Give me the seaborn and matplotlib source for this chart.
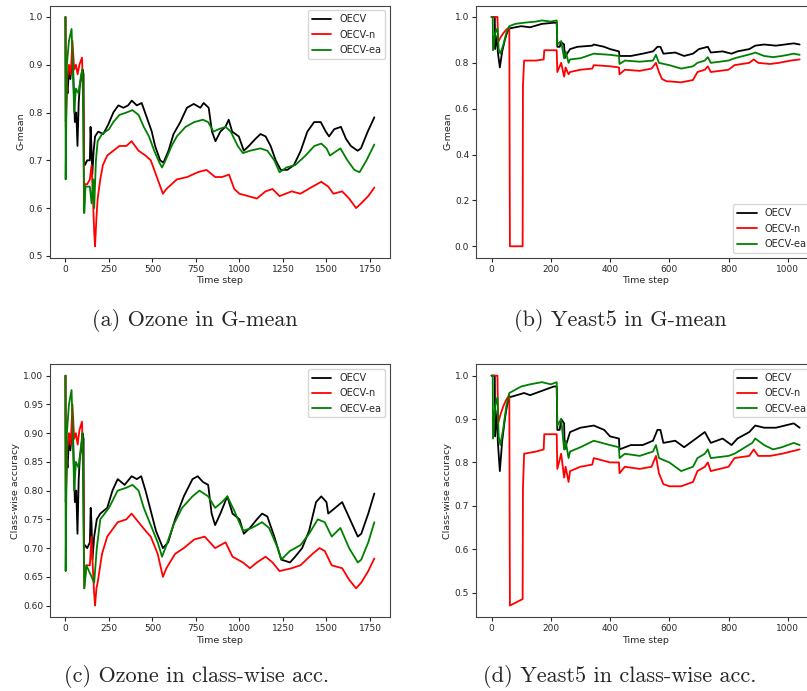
import matplotlib
matplotlib.use("Agg")
import matplotlib.pyplot as plt
import seaborn as sns
import pandas as pd

methods = ["OECV", "OECV-n", "OECV-ea"]
colors = {"OECV": "black", "OECV-n": "red", "OECV-ea": "green"}

# ---- Ozone, G-mean ----
oz_gm_t_oecv = [0, 2, 6, 12, 20, 28, 36, 44, 54, 62, 69, 76, 83, 90, 98, 104, 106, 112, 125, 140, 144, 148, 154,
                162, 170, 188, 217, 246, 275, 304, 333, 360, 381, 410, 438, 467, 496, 515, 544, 563, 592, 621, 660,
                698, 737, 775, 794, 823, 842, 862, 890, 919, 938, 958, 996, 1025, 1054, 1092, 1121, 1150, 1179, 1208,
                1237, 1275, 1313, 1352, 1390, 1429, 1467, 1496, 1515, 1544, 1583, 1612, 1640, 1679, 1698, 1737, 1775]
oz_gm_v_oecv = [1.0, 0.78, 0.86, 0.84, 0.89, 0.87, 0.90, 0.89, 0.78, 0.80, 0.73, 0.82, 0.86, 0.87, 0.89, 0.88, 0.70,
                0.69, 0.70, 0.70, 0.77, 0.74, 0.67, 0.72, 0.75, 0.76, 0.755, 0.775, 0.80, 0.815, 0.81, 0.815, 0.825,
                0.815, 0.82, 0.79, 0.76, 0.73, 0.70, 0.695, 0.72, 0.755, 0.78, 0.81, 0.818, 0.81, 0.82, 0.81, 0.76,
                0.74, 0.76, 0.77, 0.785, 0.76, 0.75, 0.72, 0.73, 0.745, 0.755, 0.75, 0.73, 0.70, 0.68, 0.68, 0.69,
                0.72, 0.76, 0.78, 0.78, 0.76, 0.75, 0.765, 0.77, 0.745, 0.73, 0.72, 0.725, 0.76, 0.79]

oz_gm_t_n = [0, 2, 10, 20, 30, 40, 50, 60, 70, 80, 95, 104, 106, 112, 125, 140, 150, 158, 165, 170, 178, 185, 200,
             215, 240, 275, 310, 350, 380, 420, 460, 490, 520, 540, 560, 580, 610, 640, 700, 760, 810, 860, 900, 940,
             970, 1000, 1050, 1100, 1150, 1190, 1230, 1300, 1350, 1420, 1470, 1510, 1540, 1590, 1630, 1670, 1700,
             1740, 1775]
oz_gm_v_n = [1.0, 0.77, 0.87, 0.90, 0.88, 0.95, 0.89, 0.90, 0.88, 0.90, 0.915, 0.80, 0.59, 0.65, 0.65, 0.66, 0.69,
             0.62, 0.55, 0.52, 0.58, 0.62, 0.66, 0.69, 0.71, 0.72, 0.73, 0.73, 0.74, 0.72, 0.71, 0.70, 0.67, 0.65,
             0.63, 0.64, 0.65, 0.66, 0.665, 0.675, 0.68, 0.665, 0.665, 0.67, 0.64, 0.63, 0.625, 0.62, 0.635, 0.64,
             0.625, 0.635, 0.63, 0.645, 0.655, 0.645, 0.63, 0.635, 0.62, 0.60, 0.61, 0.625, 0.643]

oz_gm_t_ea = [0, 1, 8, 20, 35, 42, 50, 60, 75, 90, 98, 102, 108, 115, 140, 150, 160, 165, 175, 185, 210, 250, 275,
              310, 350, 385, 420, 450, 480, 510, 540, 555, 575, 610, 640, 690, 740, 790, 820, 850, 880, 920, 950,
              990, 1020, 1060, 1120, 1160, 1200, 1230, 1270, 1320, 1380, 1430, 1470, 1500, 1520, 1580, 1620, 1660,
              1690, 1730, 1775]
oz_gm_v_ea = [1.0, 0.66, 0.90, 0.95, 0.975, 0.90, 0.80, 0.85, 0.84, 0.88, 0.89, 0.78, 0.59, 0.645, 0.645, 0.61,
              0.66, 0.60, 0.70, 0.74, 0.755, 0.765, 0.78, 0.795, 0.80, 0.805, 0.795, 0.77, 0.75, 0.72, 0.695, 0.685,
              0.70, 0.73, 0.75, 0.77, 0.78, 0.785, 0.78, 0.76, 0.765, 0.77, 0.76, 0.73, 0.715, 0.72, 0.725, 0.72,
              0.70, 0.675, 0.685, 0.69, 0.71, 0.73, 0.735, 0.725, 0.71, 0.725, 0.70, 0.68, 0.675, 0.70, 0.733]

# ---- Ozone, class-wise accuracy ----
oz_ca_t_oecv = [0, 2, 6, 12, 20, 28, 36, 44, 54, 62, 69, 76, 83, 90, 98, 104, 106, 112, 125, 140, 145, 150, 155,
                165, 180, 200, 240, 270, 300, 340, 380, 410, 435, 460, 490, 520, 560, 590, 630, 680, 730, 760, 790,
                820, 840, 860, 890, 930, 960, 1000, 1025, 1060, 1100, 1130, 1160, 1200, 1240, 1290, 1320, 1360, 1400,
                1440, 1470, 1500, 1510, 1550, 1590, 1620, 1650, 1680, 1700, 1740, 1775]
oz_ca_v_oecv = [1.0, 0.78, 0.86, 0.84, 0.89, 0.87, 0.90, 0.89, 0.78, 0.80, 0.725, 0.82, 0.86, 0.87, 0.90, 0.89,
                0.70, 0.705, 0.70, 0.71, 0.77, 0.74, 0.68, 0.72, 0.75, 0.76, 0.77, 0.80, 0.82, 0.81, 0.825, 0.82,
                0.825, 0.80, 0.765, 0.73, 0.70, 0.71, 0.75, 0.79, 0.82, 0.825, 0.815, 0.81, 0.76, 0.74, 0.76, 0.79,
                0.76, 0.75, 0.725, 0.735, 0.75, 0.76, 0.755, 0.72, 0.68, 0.675, 0.685, 0.70, 0.73, 0.78, 0.79, 0.78,
                0.76, 0.77, 0.78, 0.76, 0.74, 0.72, 0.725, 0.76, 0.795]

oz_ca_t_n = [0, 2, 10, 20, 30, 40, 50, 60, 70, 80, 95, 104, 108, 120, 140, 150, 158, 165, 170, 178, 185, 210, 240,
             300, 350, 380, 420, 460, 490, 530, 560, 580, 630, 680, 740, 800, 860, 920, 960, 1020, 1060, 1100, 1150,
             1190, 1230, 1300, 1350, 1420, 1460, 1490, 1530, 1590, 1630, 1670, 1700, 1740, 1775]
oz_ca_v_n = [1.0, 0.78, 0.87, 0.90, 0.88, 0.95, 0.89, 0.90, 0.88, 0.905, 0.92, 0.80, 0.63, 0.67, 0.67, 0.72, 0.66,
             0.62, 0.60, 0.63, 0.64, 0.69, 0.72, 0.745, 0.75, 0.76, 0.745, 0.73, 0.72, 0.69, 0.65, 0.665, 0.69, 0.70,
             0.715, 0.72, 0.70, 0.71, 0.685, 0.675, 0.665, 0.675, 0.685, 0.675, 0.66, 0.665, 0.67, 0.69, 0.70,
             0.695, 0.67, 0.665, 0.645, 0.63, 0.64, 0.66, 0.682]

oz_ca_t_ea = [0, 1, 8, 20, 35, 42, 50, 60, 75, 90, 98, 102, 108, 120, 150, 165, 180, 200, 250, 300, 350, 385, 420,
              450, 490, 530, 555, 580, 620, 670, 730, 770, 820, 860, 900, 930, 970, 1020, 1070, 1130, 1170, 1220,
              1240, 1290, 1350, 1400, 1450, 1490, 1530, 1580, 1630, 1680, 1700, 1740, 1775]
oz_ca_v_ea = [1.0, 0.66, 0.90, 0.95, 0.975, 0.90, 0.80, 0.85, 0.84, 0.88, 0.90, 0.78, 0.63, 0.67, 0.65, 0.64, 0.70,
              0.75, 0.77, 0.80, 0.805, 0.81, 0.80, 0.77, 0.74, 0.71, 0.685, 0.705, 0.74, 0.77, 0.79, 0.80, 0.79,
              0.77, 0.78, 0.79, 0.765, 0.73, 0.735, 0.745, 0.735, 0.70, 0.68, 0.695, 0.705, 0.725, 0.75, 0.745,
              0.72, 0.735, 0.70, 0.675, 0.68, 0.71, 0.745]

# ---- Yeast5, G-mean ----
ye_gm_t_oecv = [0, 11, 12, 20, 21, 28, 36, 45, 52, 60, 80, 100, 130, 170, 210, 220, 222, 230, 235, 245, 247, 255,
                265, 290, 340, 345, 380, 400, 430, 432, 470, 510, 545, 560, 570, 580, 620, 650, 680, 700, 730, 740,
                780, 810, 830, 870, 890, 920, 960, 1020, 1040]
ye_gm_v_oecv = [1.0, 1.0, 0.86, 0.92, 0.85, 0.78, 0.85, 0.90, 0.93, 0.95, 0.955, 0.96, 0.955, 0.97, 0.975, 0.975,
                0.87, 0.87, 0.89, 0.88, 0.82, 0.84, 0.86, 0.87, 0.875, 0.88, 0.87, 0.86, 0.85, 0.83, 0.83, 0.84, 0.85,
                0.87, 0.87, 0.84, 0.845, 0.83, 0.84, 0.86, 0.87, 0.845, 0.85, 0.84, 0.85, 0.86, 0.875, 0.88, 0.875,
                0.885, 0.88]

ye_gm_t_n = [0, 20, 22, 30, 40, 50, 60, 62, 105, 106, 110, 150, 176, 178, 220, 222, 235, 245, 250, 260, 265, 300,
             340, 345, 400, 430, 432, 450, 500, 540, 555, 565, 575, 590, 640, 680, 695, 720, 730, 740, 800, 820, 870,
             885, 900, 940, 970, 1010, 1040]
ye_gm_v_n = [1.0, 1.0, 0.89, 0.91, 0.93, 0.945, 0.955, 0.0, 0.0, 0.70, 0.81, 0.81, 0.815, 0.855, 0.855, 0.76, 0.80,
             0.74, 0.78, 0.75, 0.76, 0.77, 0.775, 0.79, 0.785, 0.78, 0.75, 0.77, 0.765, 0.775, 0.80, 0.76, 0.73,
             0.72, 0.715, 0.725, 0.76, 0.77, 0.785, 0.76, 0.77, 0.79, 0.80, 0.815, 0.80, 0.795, 0.80, 0.81, 0.815]

ye_gm_t_ea = [0, 4, 5, 12, 20, 24, 30, 40, 50, 60, 80, 110, 150, 170, 200, 220, 222, 235, 245, 250, 260, 265, 300,
              345, 400, 430, 432, 450, 500, 545, 555, 565, 600, 640, 680, 695, 720, 730, 740, 800, 820, 880, 890,
              920, 950, 980, 1020, 1040]
ye_gm_v_ea = [1.0, 1.0, 0.855, 0.93, 0.95, 0.86, 0.84, 0.88, 0.93, 0.96, 0.97, 0.975, 0.98, 0.985, 0.98, 0.985,
              0.88, 0.895, 0.82, 0.85, 0.80, 0.815, 0.82, 0.84, 0.835, 0.83, 0.795, 0.81, 0.805, 0.81, 0.835, 0.80,
              0.79, 0.775, 0.785, 0.80, 0.81, 0.825, 0.80, 0.81, 0.82, 0.84, 0.845, 0.83, 0.825, 0.83, 0.84, 0.835]

# ---- Yeast5, class-wise accuracy ----
ye_ca_t_oecv = [0, 11, 12, 20, 21, 28, 36, 45, 52, 60, 110, 130, 210, 220, 222, 230, 235, 245, 247, 265, 300, 345,
                380, 400, 430, 432, 470, 510, 545, 560, 570, 580, 620, 650, 690, 720, 740, 780, 810, 830, 870, 890,
                920, 960, 1020, 1040]
ye_ca_v_oecv = [1.0, 1.0, 0.86, 0.92, 0.85, 0.78, 0.85, 0.90, 0.93, 0.95, 0.96, 0.955, 0.975, 0.975, 0.875, 0.875,
                0.90, 0.89, 0.83, 0.87, 0.88, 0.885, 0.875, 0.86, 0.855, 0.83, 0.84, 0.84, 0.85, 0.875, 0.875, 0.845,
                0.85, 0.835, 0.855, 0.87, 0.845, 0.855, 0.84, 0.855, 0.87, 0.885, 0.88, 0.88, 0.89, 0.88]

ye_ca_t_n = [0, 20, 22, 30, 40, 50, 60, 62, 105, 106, 110, 150, 176, 178, 220, 222, 235, 245, 250, 260, 265, 300,
             340, 345, 400, 430, 432, 450, 500, 540, 555, 565, 580, 600, 640, 680, 695, 720, 730, 740, 800, 820, 870,
             885, 900, 940, 980, 1010, 1040]
ye_ca_v_n = [1.0, 1.0, 0.89, 0.91, 0.93, 0.945, 0.955, 0.47, 0.485, 0.74, 0.82, 0.825, 0.83, 0.865, 0.865, 0.785,
             0.82, 0.765, 0.79, 0.755, 0.78, 0.79, 0.795, 0.81, 0.80, 0.80, 0.775, 0.79, 0.785, 0.79, 0.815, 0.775,
             0.75, 0.745, 0.745, 0.755, 0.78, 0.79, 0.80, 0.78, 0.79, 0.81, 0.815, 0.83, 0.815, 0.815, 0.82, 0.825,
             0.83]

ye_ca_t_ea = [0, 4, 5, 12, 20, 24, 30, 40, 50, 60, 100, 130, 170, 200, 220, 222, 235, 245, 250, 260, 265, 300, 345,
              400, 430, 432, 450, 500, 545, 555, 565, 600, 640, 680, 695, 720, 730, 740, 800, 820, 880, 890, 920,
              950, 980, 1020, 1040]
ye_ca_v_ea = [1.0, 1.0, 0.855, 0.93, 0.95, 0.86, 0.84, 0.88, 0.93, 0.96, 0.975, 0.98, 0.985, 0.98, 0.985, 0.885,
              0.90, 0.83, 0.85, 0.81, 0.825, 0.835, 0.85, 0.84, 0.835, 0.81, 0.82, 0.815, 0.825, 0.84, 0.81, 0.80,
              0.78, 0.79, 0.81, 0.82, 0.83, 0.81, 0.815, 0.82, 0.845, 0.855, 0.84, 0.83, 0.835, 0.845, 0.84]

panels = {
    "oz_gm": [(oz_gm_t_oecv, oz_gm_v_oecv), (oz_gm_t_n, oz_gm_v_n), (oz_gm_t_ea, oz_gm_v_ea)],
    "ye_gm": [(ye_gm_t_oecv, ye_gm_v_oecv), (ye_gm_t_n, ye_gm_v_n), (ye_gm_t_ea, ye_gm_v_ea)],
    "oz_ca": [(oz_ca_t_oecv, oz_ca_v_oecv), (oz_ca_t_n, oz_ca_v_n), (oz_ca_t_ea, oz_ca_v_ea)],
    "ye_ca": [(ye_ca_t_oecv, ye_ca_v_oecv), (ye_ca_t_n, ye_ca_v_n), (ye_ca_t_ea, ye_ca_v_ea)],
}
ylabels = {"oz_gm": "G-mean", "ye_gm": "G-mean", "oz_ca": "Class-wise accuracy", "ye_ca": "Class-wise accuracy"}
legend_loc = {"oz_gm": "upper right", "ye_gm": "lower right", "oz_ca": "upper right", "ye_ca": "upper right"}
captions = ["(a) Ozone in G-mean", "(b) Yeast5 in G-mean", "(c) Ozone in class-wise acc.", "(d) Yeast5 in class-wise acc."]

sns.set_style("ticks")
plt.rcParams["font.family"] = ["DejaVu Sans"]

fig = plt.figure(figsize=(8.07, 6.91), dpi=100)
# axes boxes in figure fractions (right column runs slightly past the edge, as in the source)
boxes = {
    "oz_gm": [0.062, 0.627, 0.421, 0.365],
    "ye_gm": [0.590, 0.627, 0.420, 0.365],
    "oz_ca": [0.062, 0.107, 0.421, 0.366],
    "ye_ca": [0.590, 0.107, 0.420, 0.366],
}

for key, series in panels.items():
    ax = fig.add_axes(boxes[key])
    rows = []
    for m, (t, v) in zip(methods, series):
        for a, b in zip(t, v):
            rows.append({"method": m, "step": a, "value": b})
    df = pd.DataFrame(rows)
    sns.lineplot(data=df, x="step", y="value", hue="method", palette=colors, estimator=None,
                 sort=False, linewidth=1.3, ax=ax)
    ax.set_xlabel("Time step", fontsize=6.8, labelpad=2)
    ax.set_ylabel(ylabels[key], fontsize=6.8, labelpad=2)
    ax.tick_params(labelsize=6.5, length=3, pad=2)
    for s in ax.spines.values():
        s.set_color("#444444")
        s.set_linewidth(0.8)
    leg = ax.legend(loc=legend_loc[key], fontsize=7, frameon=True, handlelength=2.0, labelspacing=0.55)
    leg.get_frame().set_edgecolor("#cccccc")

fig.text(0.242, 1 - 320 / 691, captions[0], ha="center", va="center", fontsize=16, family="cmr10")
fig.text(0.769, 1 - 320 / 691, captions[1], ha="center", va="center", fontsize=16, family="cmr10")
fig.text(0.243, 1 - 677 / 691, captions[2], ha="center", va="center", fontsize=16, family="cmr10")
fig.text(0.768, 1 - 677 / 691, captions[3], ha="center", va="center", fontsize=16, family="cmr10")

fig.savefig("out.png", dpi=100)
